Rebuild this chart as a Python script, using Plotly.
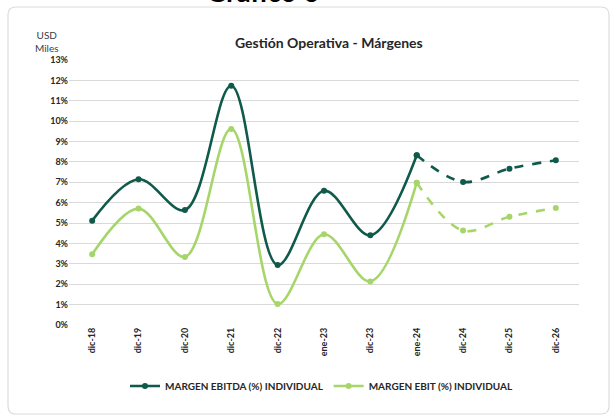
import plotly.graph_objects as go

# Datos del gráfico
periodos = ["dic-18", "dic-19", "dic-20", "dic-21", "dic-22", "ene-23",
            "dic-23", "ene-24", "dic-24", "dic-25", "dic-26"]
margen_ebitda = [5.12, 7.15, 5.64, 11.74, 2.94, 6.59, 4.40, 8.33, 7.02, 7.67, 8.08]
margen_ebit = [3.47, 5.71, 3.34, 9.62, 1.03, 4.45, 2.14, 6.98, 4.63, 5.31, 5.74]
n_real = 8  # hasta ene-24 real, después proyectado

verde_oscuro = "#0f5a4a"
verde_claro = "#a6d66a"
fuente = "Lato"

W, H = 616, 416
L, R, T, B = 69, 37, 60, 91


def px(x):
    return (x - L) / (W - L - R)


def py(y):
    return (H - B - y) / (H - T - B)


fig = go.Figure()

for nombre, valores, color in [
    ("MARGEN EBITDA (%) INDIVIDUAL", margen_ebitda, verde_oscuro),
    ("MARGEN EBIT (%) INDIVIDUAL", margen_ebit, verde_claro),
]:
    # tramo real (línea continua)
    fig.add_trace(go.Scatter(
        x=periodos[:n_real], y=valores[:n_real],
        mode="lines+markers", name=nombre,
        line=dict(color=color, width=2.6, shape="spline", smoothing=1),
        marker=dict(color=color, size=6),
    ))
    # tramo proyectado (línea discontinua)
    fig.add_trace(go.Scatter(
        x=periodos[n_real - 1:], y=valores[n_real - 1:],
        mode="lines+markers", name=nombre, showlegend=False,
        line=dict(color=color, width=2.6, shape="spline", smoothing=1, dash="dash"),
        marker=dict(color=color, size=6),
    ))

# Marco redondeado
x0, x1, y0, y1, r = 8, 609, 7, 414, 8
path = (
    f"M {px(x0 + r)} {py(y0)} L {px(x1 - r)} {py(y0)} "
    f"Q {px(x1)} {py(y0)} {px(x1)} {py(y0 + r)} L {px(x1)} {py(y1 - r)} "
    f"Q {px(x1)} {py(y1)} {px(x1 - r)} {py(y1)} L {px(x0 + r)} {py(y1)} "
    f"Q {px(x0)} {py(y1)} {px(x0)} {py(y1 - r)} L {px(x0)} {py(y0 + r)} "
    f"Q {px(x0)} {py(y0)} {px(x0 + r)} {py(y0)} Z"
)
fig.add_shape(type="path", path=path, xref="paper", yref="paper",
              line=dict(color="#dcdcdc", width=1.2), layer="below")

fig.add_annotation(text="Gestión Operativa - Márgenes", xref="paper", yref="paper",
                   x=px(329), y=py(32), showarrow=False,
                   font=dict(family=fuente, size=14, color="#262626", weight="bold"))
fig.add_annotation(text="USD<br>Miles", xref="paper", yref="paper",
                   x=px(33), y=py(27), showarrow=False, align="center",
                   font=dict(family=fuente, size=10, color="#404040"))
fig.add_annotation(text="Gráfico 6", xref="paper", yref="paper",
                   x=px(263), y=py(10), yanchor="bottom", showarrow=False,
                   font=dict(family=fuente, size=28, color="#000000", weight="bold"))

fig.update_layout(
    width=W, height=H,
    margin=dict(l=L, r=R, t=T, b=B),
    paper_bgcolor="white", plot_bgcolor="white",
    font=dict(family=fuente, color="#404040"),
    showlegend=True,
    legend=dict(orientation="h", x=px(322), xanchor="center", y=py(386), yanchor="middle",
                font=dict(family=fuente, size=10, color="#262626", weight="bold"),
                itemwidth=30, tracegroupgap=0),
    xaxis=dict(type="category", range=[-0.5, len(periodos) - 0.5], tickangle=-90,
               showgrid=False, ticks="", showline=False, zeroline=False,
               automargin=False,
               tickfont=dict(family=fuente, size=9, color="#262626", weight="bold")),
    yaxis=dict(range=[0, 13], dtick=1, ticksuffix="%", showgrid=True,
               gridcolor="#d9d9d9", gridwidth=1, zeroline=False, showline=False,
               automargin=False,
               tickfont=dict(family=fuente, size=9, color="#262626", weight="bold")),
)

# quitar el margen por defecto del body para que la figura quede en (0, 0)
fig.write_html("out.html", config={"displayModeBar": False},
               post_script="document.body.style.margin='0';")
